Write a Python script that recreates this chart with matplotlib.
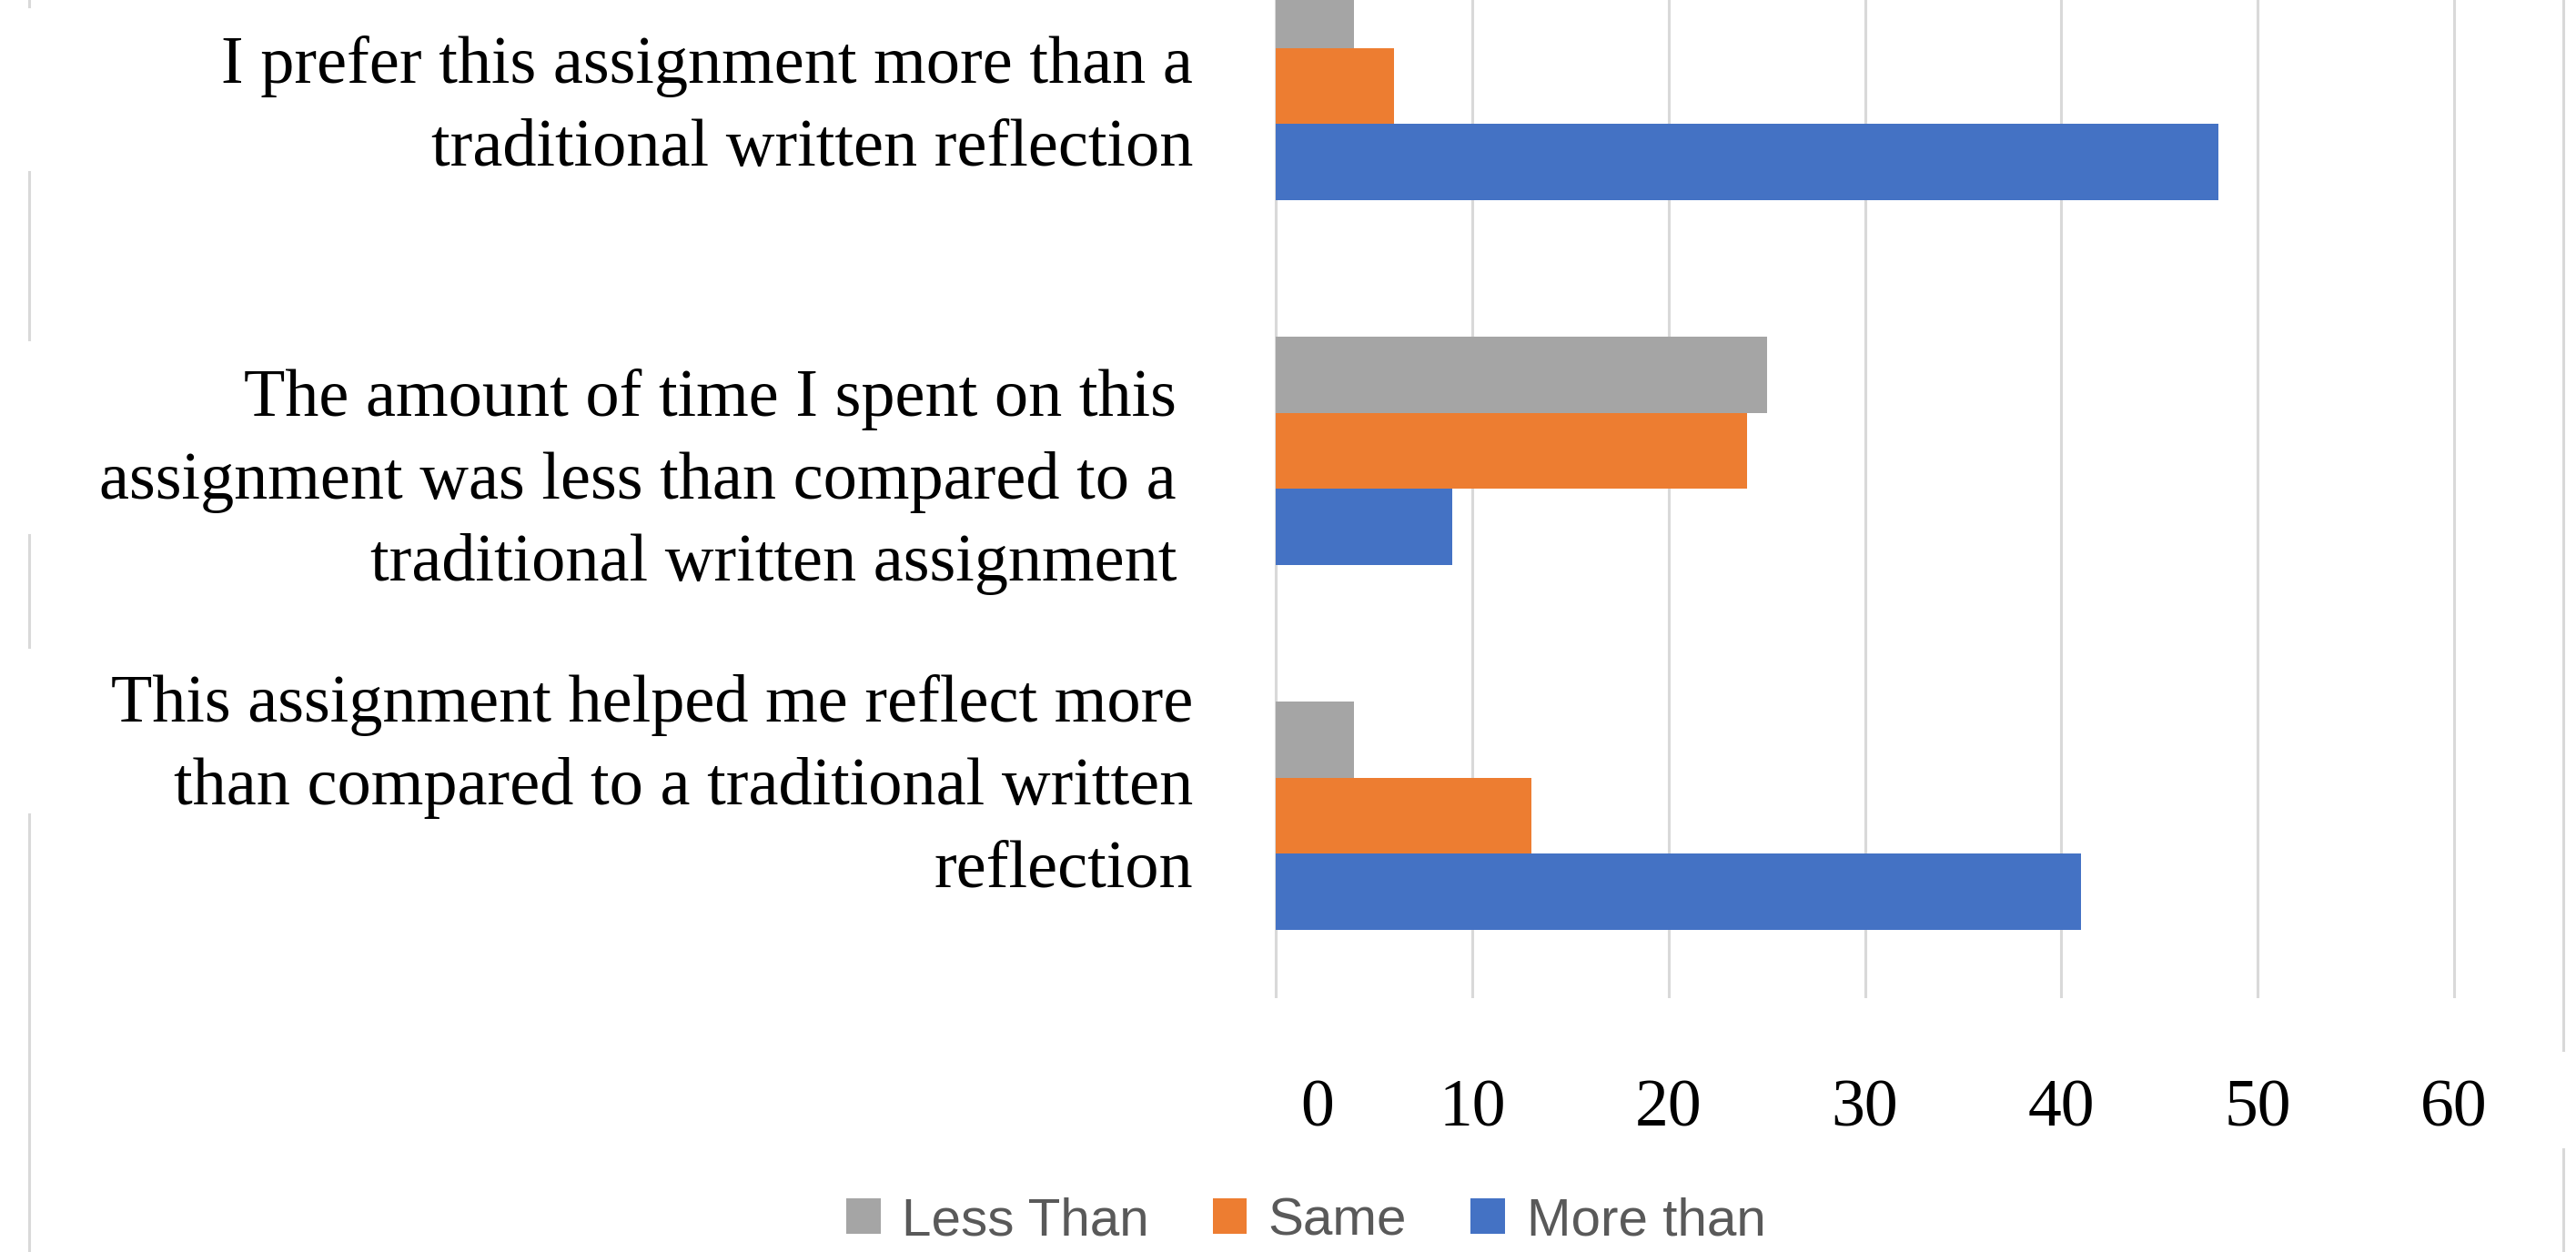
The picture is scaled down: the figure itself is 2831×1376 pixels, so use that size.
import matplotlib
matplotlib.use("Agg")
import matplotlib.pyplot as plt
import matplotlib.transforms as mtransforms
from matplotlib.patches import Patch
from matplotlib.lines import Line2D
import numpy as np

# data (bottom category first, as Excel draws it)
categories = [
    "This assignment helped me reflect more\nthan compared to a traditional written\nreflection",
    "The amount of time I spent on this\nassignment was less than compared to a\ntraditional written assignment",
    "I prefer this assignment more than a\ntraditional written reflection",
]
series_names = ["Less Than", "Same", "More than"]
less_than = [4, 25, 4]
same = [13, 24, 6]
more_than = [41, 9, 48]
x_ticks = [0, 10, 20, 30, 40, 50, 60]

colors = {"Less Than": "#A5A5A5", "Same": "#ED7D31", "More than": "#4472C4"}

W, H = 2831, 1376
fig = plt.figure(figsize=(W / 100, H / 100), dpi=100)

# plot area: top is cut off in the reference
x0, x1 = -0.2, 60.2
px_per_unit = (2697 - 1402) / 60
left_px = 1402 + x0 * px_per_unit
right_px = 1402 + x1 * px_per_unit
bottom_px = 1097
top_px = bottom_px - 3 * 401
ax = fig.add_axes([left_px / W, 1 - bottom_px / H,
                   (right_px - left_px) / W, (bottom_px - top_px) / H])

y = np.arange(len(categories))
h = 0.208
ax.barh(y + h, less_than, height=h, color=colors["Less Than"], zorder=3)
ax.barh(y, same, height=h, color=colors["Same"], zorder=3)
ax.barh(y - h, more_than, height=h, color=colors["More than"], zorder=3)

ax.set_xlim(x0, x1)
ax.set_ylim(-0.5, 2.5)
ax.set_xticks(x_ticks)
ax.set_xticklabels([str(t) for t in x_ticks], fontsize=53, family="Liberation Serif")
ax.tick_params(axis="x", length=0, pad=64)
ax.set_yticks([])
ax.grid(axis="x", color="#d9d9d9", linewidth=2.2, zorder=0)
for s in ax.spines.values():
    s.set_visible(False)

# Excel nudged the "0" label to the right
lbl0 = ax.get_xticklabels()[0]
lbl0.set_transform(lbl0.get_transform() + mtransforms.ScaledTranslation(0.46, 0, fig.dpi_scale_trans))

# category labels
label_x = [-4.2, -5.05, -4.2]
label_dy = [0.077, -0.085, -0.06]
for i, txt in enumerate(categories):
    ax.text(label_x[i], y[i] + label_dy[i], txt, ha="right", va="center",
            multialignment="right", fontsize=53.5, family="Liberation Serif",
            linespacing=1.44, clip_on=False)

# legend
handles = [Patch(facecolor=colors[n], edgecolor="none") for n in series_names]
leg = fig.legend(handles, series_names, loc="center", ncol=3, frameon=False,
                 bbox_to_anchor=(1435 / W, 1 - 1342 / H),
                 prop={"family": "Liberation Sans", "size": 42},
                 handlelength=0.65, handleheight=0.65, handletextpad=0.4,
                 columnspacing=1.2)
for t in leg.get_texts():
    t.set_color("#595959")

# broken chart border seen at the picture edges
border = [(32, [(0, 7), (189, 373), (588, 711), (895, 1376)]),
          (2817, [(0, 1154), (1263, 1376)])]
for bx, segs in border:
    for a, b in segs:
        fig.add_artist(Line2D([bx / W, bx / W], [1 - a / H, 1 - b / H],
                              color="#d9d9d9", linewidth=2.2,
                              transform=fig.transFigure))

fig.savefig("out.png", dpi=100)
